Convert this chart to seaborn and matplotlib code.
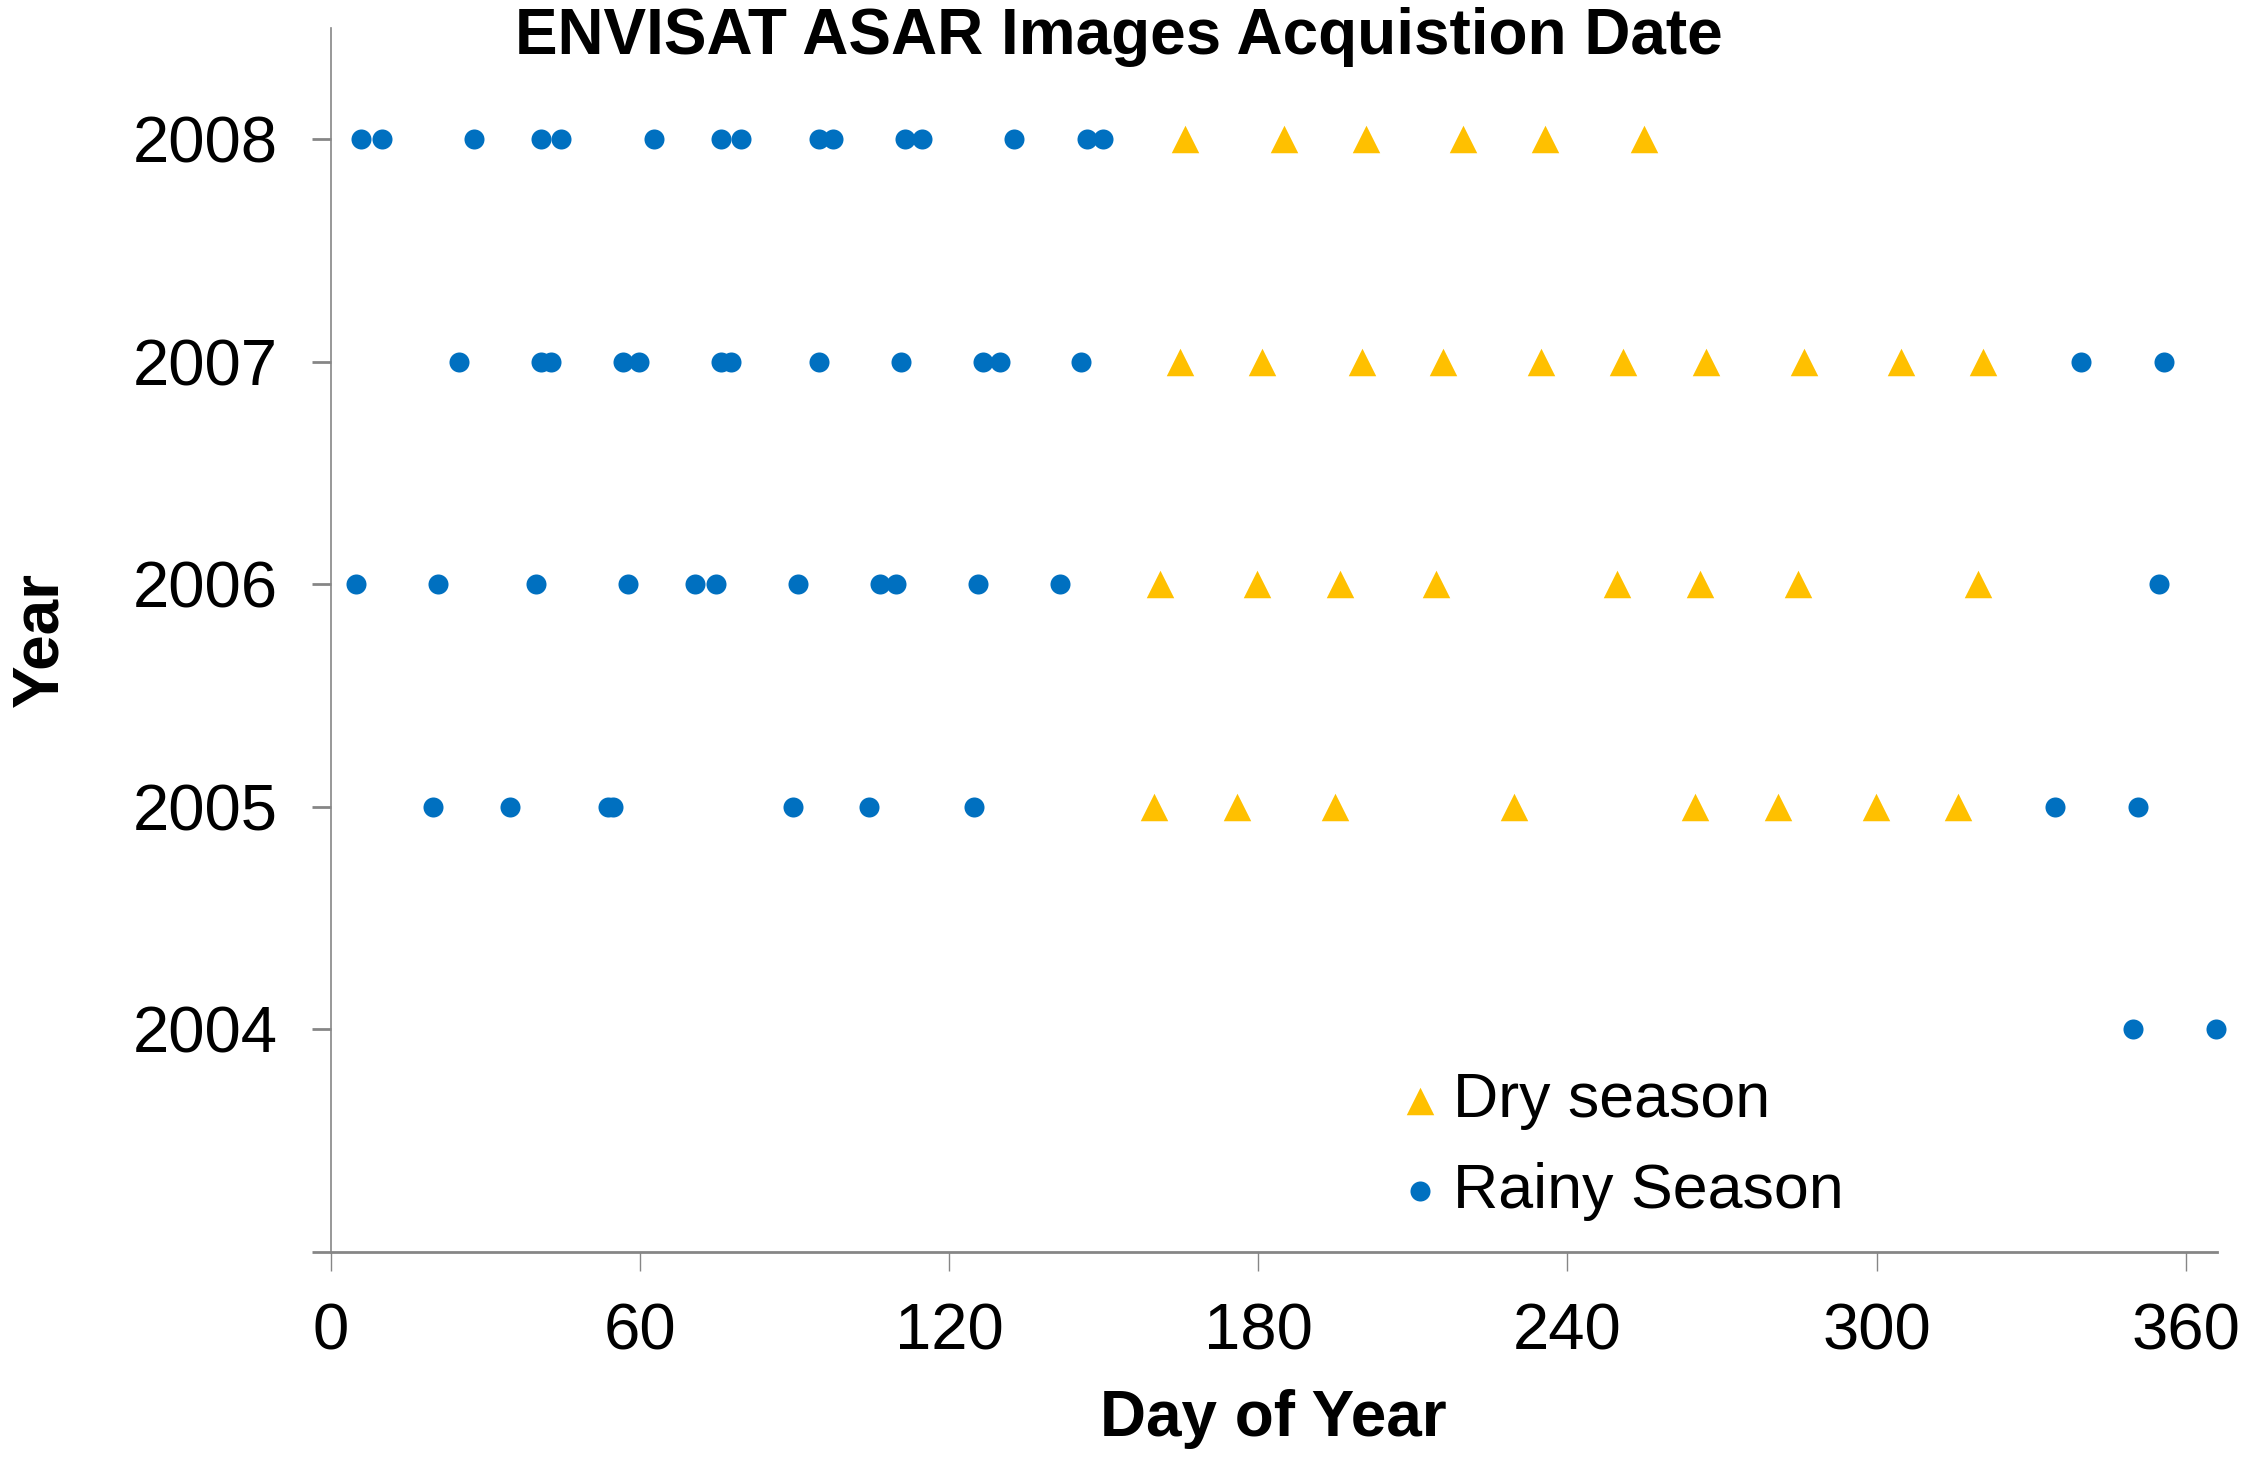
import matplotlib
matplotlib.use("Agg")
import matplotlib.pyplot as plt
import seaborn as sns
import pandas as pd

# ---- data (day of year) ----
rainy_2008 = [5.9, 9.9, 27.8, 40.8, 44.8, 62.7, 75.7, 79.7, 94.7, 97.5, 111.5, 114.8, 132.6, 146.8, 149.9]
dry_2008 = [165.8, 185.0, 200.9, 219.8, 235.7, 254.9]
rainy_2007 = [24.9, 40.8, 42.8, 56.8, 59.8, 75.7, 77.7, 94.7, 110.6, 126.5, 129.8, 145.7, 339.6, 355.8]
dry_2007 = [164.9, 180.8, 200.1, 215.9, 234.9, 250.8, 266.9, 285.9, 304.8, 320.7]
rainy_2006 = [4.9, 20.8, 39.8, 57.8, 70.8, 74.8, 90.6, 106.7, 109.8, 125.7, 141.5, 354.7]
dry_2006 = [161.0, 179.7, 195.9, 214.5, 249.7, 265.8, 284.8, 319.6]
rainy_2005 = [19.9, 34.8, 53.8, 54.8, 89.7, 104.5, 124.8, 334.6, 350.8]
dry_2005 = [159.7, 175.8, 194.8, 229.6, 264.7, 280.9, 299.8, 315.7]
rainy_2004 = [349.7, 365.8]
dry_2004 = []

years = [2008, 2007, 2006, 2005, 2004]
rainy = [rainy_2008, rainy_2007, rainy_2006, rainy_2005, rainy_2004]
dry = [dry_2008, dry_2007, dry_2006, dry_2005, dry_2004]
x_ticks = [0, 60, 120, 180, 240, 300, 360]
y_ticks = [2003, 2004, 2005, 2006, 2007, 2008]
y_ticklabels = ["", "2004", "2005", "2006", "2007", "2008"]

rows = []
for yr, r, d in zip(years, rainy, dry):
    for v in d:
        rows.append({"Day": v, "Year": yr, "Season": "Dry season"})
for yr, r, d in zip(years, rainy, dry):
    for v in r:
        rows.append({"Day": v, "Year": yr, "Season": "Rainy Season"})
df = pd.DataFrame(rows)

sns.set_theme(style="white")
plt.rcParams["font.family"] = ["Liberation Sans", "DejaVu Sans"]
plt.rcParams["text.color"] = "black"
plt.rcParams["axes.labelcolor"] = "black"
plt.rcParams["xtick.labelcolor"] = "black"
plt.rcParams["ytick.labelcolor"] = "black"

fig = plt.figure(figsize=(11.23, 7.31), dpi=200)
ax = fig.add_axes([0.1472, 0.1436, 0.987 - 0.1472, 0.981 - 0.1436])

BLUE = "#0070C0"
GOLD = "#FFC000"
sns.scatterplot(data=df[df.Season == "Dry season"], x="Day", y="Year", marker="^",
                color=GOLD, s=98, linewidth=0, ax=ax, label="Dry season", clip_on=False, zorder=3)
sns.scatterplot(data=df[df.Season == "Rainy Season"], x="Day", y="Year", marker="o",
                color=BLUE, s=52, linewidth=0, ax=ax, label="Rainy Season", clip_on=False, zorder=3)

ax.set_xlim(0, 366)
ax.set_ylim(2003, 2008.5)
ax.set_xticks(x_ticks)
ax.set_yticks(y_ticks)
ax.set_yticklabels(y_ticklabels)

for s in ["top", "right"]:
    ax.spines[s].set_visible(False)
ax.spines["left"].set_color("#868686")
ax.spines["left"].set_linewidth(0.6)
ax.spines["bottom"].set_color("#868686")
ax.spines["bottom"].set_linewidth(1.0)

ax.tick_params(axis="x", direction="out", length=7, width=0.5, color="#868686",
               labelsize=23.5, pad=11, bottom=True)
ax.tick_params(axis="y", direction="out", length=7, width=1.0, color="#868686",
               labelsize=23.5, pad=12, left=True)

ax.set_xlabel("Day of Year", fontsize=23, fontweight="bold")
ax.set_ylabel("Year", fontsize=23, fontweight="bold")
ax.xaxis.set_label_coords(0.5, -0.112)
ax.yaxis.set_label_coords(-0.138, 0.5)
fig.text(0.498, 0.975, "ENVISAT ASAR Images Acquistion Date", fontsize=23, fontweight="bold",
         ha="center", va="center")
ax.grid(False)

leg = ax.legend(loc="upper left", bbox_to_anchor=(0.551, 0.168), frameon=False, fontsize=22.6,
                handlelength=0.8, handletextpad=0.12, labelspacing=0.5, markerscale=1.0,
                borderaxespad=0)

fig.savefig("out.png", dpi=200)
